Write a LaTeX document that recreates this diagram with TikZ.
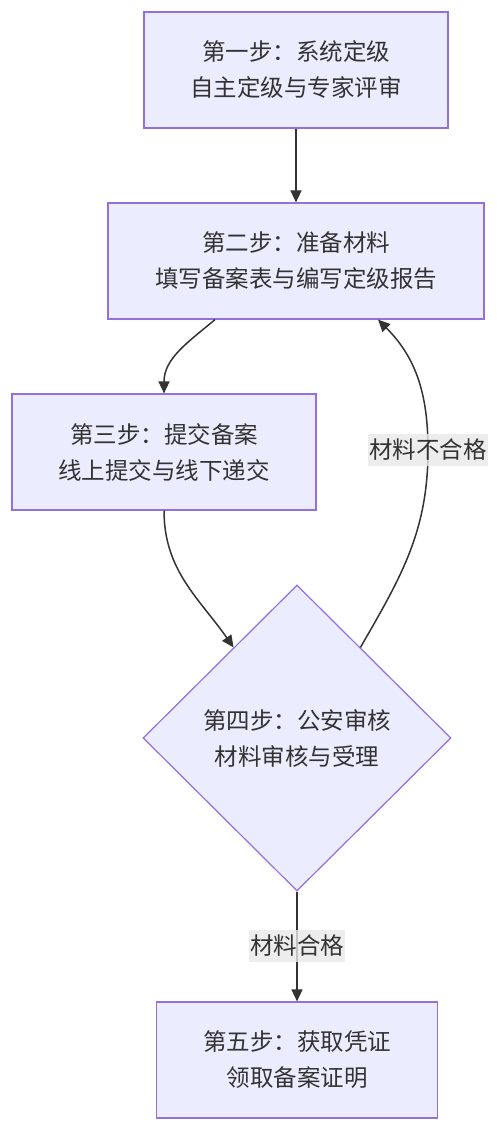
\documentclass[tikz,border=0pt]{standalone}
\usepackage{fontspec}
\setmainfont{Noto Sans CJK SC}
\usetikzlibrary{arrows.meta, positioning, calc, shapes.geometric}

\definecolor{stepfill}{HTML}{ECECFF}
\definecolor{stepline}{HTML}{9370DB}
\definecolor{inkgray}{HTML}{333333}
\definecolor{labelbg}{HTML}{E8E8E8}

\tikzset{
    stepbox/.style={rectangle, draw=stepline, fill=stepfill, line width=1.2pt,
        minimum height=116pt, align=center, text=inkgray,
        font=\fontsize{23.5}{36}\selectfont},
    checkbox/.style={diamond, draw=stepline, fill=stepfill, line width=1.2pt,
        aspect=1, inner sep=0pt, minimum width=308pt, minimum height=306pt,
        align=center, text=inkgray, font=\fontsize{23.5}{36}\selectfont},
    flow/.style={draw=inkgray, line width=1.5pt, -{Triangle[length=12pt, width=11pt]}},
    edgelabel/.style={fill=labelbg, fill opacity=0.8, text opacity=1, text=inkgray,
        inner xsep=1pt, inner ysep=5pt, font=\fontsize{23.5}{28}\selectfont},
}

\begin{document}
\begin{tikzpicture}[x=1pt, y=-1pt]
    \useasboundingbox (0,0) rectangle (500,1131);

    \node[stepbox, minimum width=304pt] (s1) at (296,70) {第一步：系统定级\\自主定级与专家评审};
    \node[stepbox, minimum width=376pt] (s2) at (296,261) {第二步：准备材料\\填写备案表与编写定级报告};
    \node[stepbox, minimum width=304pt] (s3) at (164,452) {第三步：提交备案\\线上提交与线下递交};
    \node[checkbox] (s4) at (297,738) {第四步：公安审核\\材料审核与受理};
    \node[stepbox, minimum width=281pt] (s5) at (297,1060) {第五步：获取凭证\\领取备案证明};

    \coordinate (failpt) at (428,450);
    \coordinate (passpt) at (297,946);

    \draw[flow] (s1) -- (s2);
    \draw[flow] ([xshift=-81pt]s2.south) to[out=-140, in=90] (s3.north);
    \draw[flow] (s3.south) to[out=-90, in=125] (s4);
    \draw[flow] (s4.55) to[out=60, in=-90] (failpt) to[out=90, in=-45] ([xshift=82pt]s2.south);
    \draw[flow] (s4.south) -- (s5.north);

    % labels on the edges
    \node[edgelabel] (fail) at (failpt) {材料不合格};
    \node[edgelabel] (pass) at (passpt) {材料合格};
\end{tikzpicture}
\end{document}
